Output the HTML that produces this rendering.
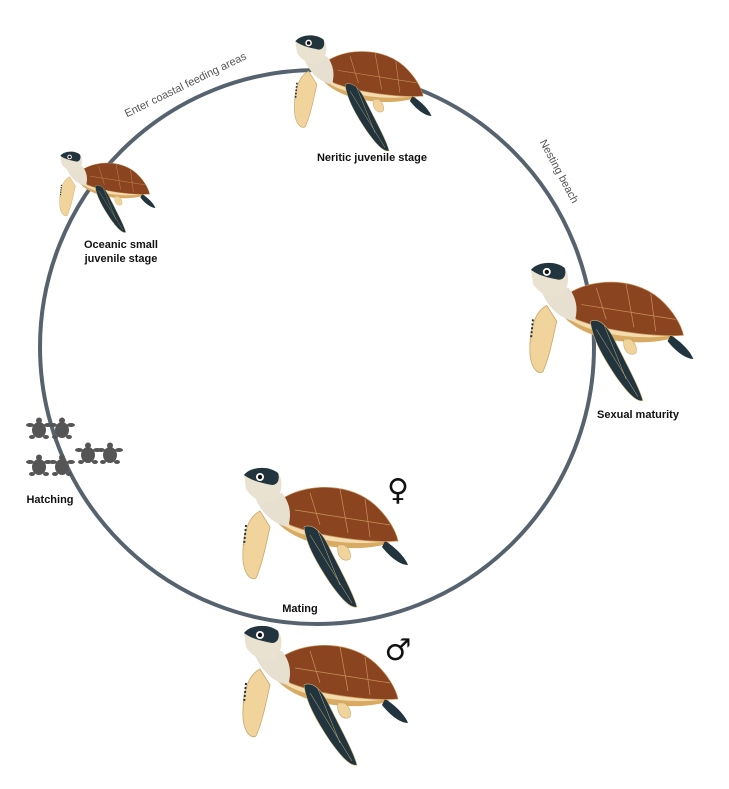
<!DOCTYPE html>
<html><head><meta charset="utf-8"><style>
html,body{margin:0;padding:0;background:#fff;}
svg{display:block;}
.lb{font-family:"Liberation Sans",sans-serif;font-weight:bold;font-size:11px;fill:#111;}
.lt{font-family:"Liberation Sans",sans-serif;font-size:11px;fill:#555;}
</style></head><body>
<svg width="729" height="789" viewBox="0 0 729 789" xmlns="http://www.w3.org/2000/svg">
<defs>
<g id="t">
  <!-- back pale flipper -->
  <path d="M20 46 C8 52 2 70 3 95 C4 108 10 116 16 113 C22 100 26 80 30 62 Z" fill="#f1d49c" stroke="#c9a66a" stroke-width="0.8"/>
  <path d="M6 60 L4 80" stroke="#23343d" stroke-width="2" stroke-dasharray="2 2"/>
  <!-- plastron -->
  <path d="M35 55 C60 85 120 88 150 78 C135 70 80 62 35 55 Z" fill="#d9ab62"/>
  <path d="M30 48 C50 75 110 82 148 76 C120 72 70 60 30 48 Z" fill="#f3dcb0"/>
  <!-- rear legs -->
  <path d="M98 80 C96 92 104 98 110 94 C112 88 108 82 104 80 Z" fill="#f1d49c" stroke="#c9a66a" stroke-width="0.6"/>
  <path d="M145 76 C155 82 165 92 168 100 C160 100 150 92 142 82 Z" fill="#22343d"/>
  <!-- shell -->
  <path d="M45 32 C70 18 110 18 135 40 C148 52 156 66 158 76 C130 78 80 72 50 60 C42 52 40 40 45 32 Z" fill="#8a4520" stroke="#c8925a" stroke-width="0.7"/>
  <path d="M70 28 L80 60 M100 24 L108 68 M125 34 L130 72 M55 45 L150 60" stroke="#c8925a" stroke-width="0.7" fill="none"/>
  <!-- neck -->
  <path d="M14 30 C20 45 30 58 48 62 C52 50 50 38 42 28 Z" fill="#e7e0d0"/>
  <!-- head -->
  <path d="M4 10 C10 2 28 0 38 8 C44 16 42 30 34 36 C24 40 12 34 6 24 Z" fill="#e9e2d1"/>
  <path d="M4 10 C10 2 28 0 38 8 C40 14 38 20 32 20 C22 18 12 16 4 10 Z" fill="#22343d"/>
  <circle cx="20" cy="12" r="4" fill="#fff"/><circle cx="20" cy="12" r="2.2" fill="#111"/>
  <!-- front dark flipper -->
  <path d="M64 62 C72 58 82 66 90 84 C102 108 114 130 117 142 C110 144 100 132 90 118 C78 100 66 80 64 62 Z" fill="#22343d" stroke="#cdb77a" stroke-width="0.6"/>
  <path d="M70 70 L112 138 M78 66 L100 120" stroke="#cdb77a" stroke-width="0.5" fill="none"/>
</g>
<g id="h">
  <ellipse cx="12" cy="12" rx="7" ry="8" fill="#555"/>
  <circle cx="12" cy="2.5" r="3" fill="#555"/>
  <ellipse cx="3" cy="7" rx="4" ry="2" fill="#555"/><ellipse cx="21" cy="7" rx="4" ry="2" fill="#555"/>
  <ellipse cx="5" cy="19" rx="3" ry="2" fill="#555"/><ellipse cx="19" cy="19" rx="3" ry="2" fill="#555"/>
</g>
</defs>

<circle cx="317" cy="347" r="277" fill="none" stroke="#56636e" stroke-width="4"/>

<use href="#t" transform="translate(292,33) scale(0.83)"/>
<use href="#t" transform="translate(58,150) scale(0.58)"/>
<use href="#t" transform="translate(527,260) scale(0.99)"/>
<use href="#t" transform="translate(240,465)"/>
<use href="#t" transform="translate(240,623)"/>

<use href="#h" x="27" y="418"/><use href="#h" x="50" y="418"/>
<use href="#h" x="27" y="455"/><use href="#h" x="50" y="455"/>
<use href="#h" x="76" y="443"/><use href="#h" x="98" y="443"/>

<text class="lt" transform="translate(187,88) rotate(-26)" text-anchor="middle">Enter coastal feeding areas</text>
<text class="lt" transform="translate(556,173) rotate(62)" text-anchor="middle">Nesting beach</text>

<text class="lb" x="372" y="161" text-anchor="middle">Neritic juvenile stage</text>
<text class="lb" x="121" y="248" text-anchor="middle">Oceanic small</text>
<text class="lb" x="121" y="262" text-anchor="middle">juvenile stage</text>
<text class="lb" x="638" y="418" text-anchor="middle">Sexual maturity</text>
<text class="lb" x="50" y="503" text-anchor="middle">Hatching</text>
<text class="lb" x="300" y="612" text-anchor="middle">Mating</text>

<text x="398" y="500" font-family="DejaVu Sans,sans-serif" font-size="30" text-anchor="middle" fill="#111">♀</text>
<text x="398" y="660" font-family="DejaVu Sans,sans-serif" font-size="30" text-anchor="middle" fill="#111">♂</text>
</svg>
</body></html>
